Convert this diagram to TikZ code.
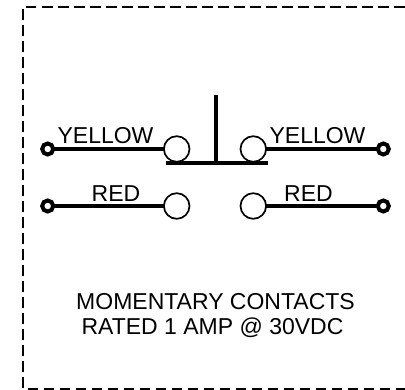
\documentclass[tikz,border=0pt]{standalone}
\usepackage{fontspec}
\setmainfont{Liberation Sans}
\usetikzlibrary{positioning}
\tikzset{
    wirelabel/.style={anchor=base,font=\fontsize{23}{23}\selectfont,inner sep=0},
    contact/.style={circle,draw,fill=white,line width=1.7pt,minimum size=25.6pt,inner sep=0,outer sep=0},
    terminal/.style={circle,draw,fill=white,line width=4pt,minimum size=11pt,inner sep=0,outer sep=0},
    wire/.style={line width=4pt},
}
\begin{document}
\begin{tikzpicture}[x=1pt,y=1pt]
    \useasboundingbox (0,0) rectangle (405,-390);
    % enclosure
    \draw[line width=2.4pt,dash pattern=on 10.5pt off 5.5pt] (23,-388) -- (23,-7) -- (405,-7);
    \draw[line width=1.5pt,dash pattern=on 10pt off 6pt] (28,-389) -- (405,-389);
    % contacts
    \node[contact] (cyl) at (176.7,-149) {};
    \node[contact] (cyr) at (253.3,-149) {};
    \node[contact] (crl) at (176.7,-206) {};
    \node[contact] (crr) at (253.3,-206) {};
    \node[terminal] (tyl) at (47.7,-149) {};
    \node[terminal] (tyr) at (383.3,-149) {};
    \node[terminal] (trl) at (47.7,-206) {};
    \node[terminal] (trr) at (383.3,-206) {};
    \draw[wire] (tyl) -- (cyl);
    \draw[wire] (cyr) -- (tyr);
    \draw[wire] (trl) -- (crl);
    \draw[wire] (crr) -- (trr);
    % push button
    \coordinate (barl) at (165.7,-163);
    \coordinate (barr) at (268,-163);
    \coordinate (stem) at (216,-95);
    \draw[line width=4pt] (barl) -- (barr);
    \draw[line width=4.5pt] (stem) -- (stem |- barl);
    % labels
    \node[wirelabel] (lyl) at (105.5,-143.3) {YELLOW};
    \node[wirelabel] (lyr) at (317.5,-143.3) {YELLOW};
    \node[wirelabel] (lrl) at (116,-201.7) {RED};
    \node[wirelabel] (lrr) at (308.5,-201.7) {RED};
    \node[wirelabel] (note1) at (215.5,-310) {MOMENTARY CONTACTS};
    \node[wirelabel] (note2) at (212.5,-335) {RATED 1 AMP @ 30VDC};
\end{tikzpicture}
\end{document}
